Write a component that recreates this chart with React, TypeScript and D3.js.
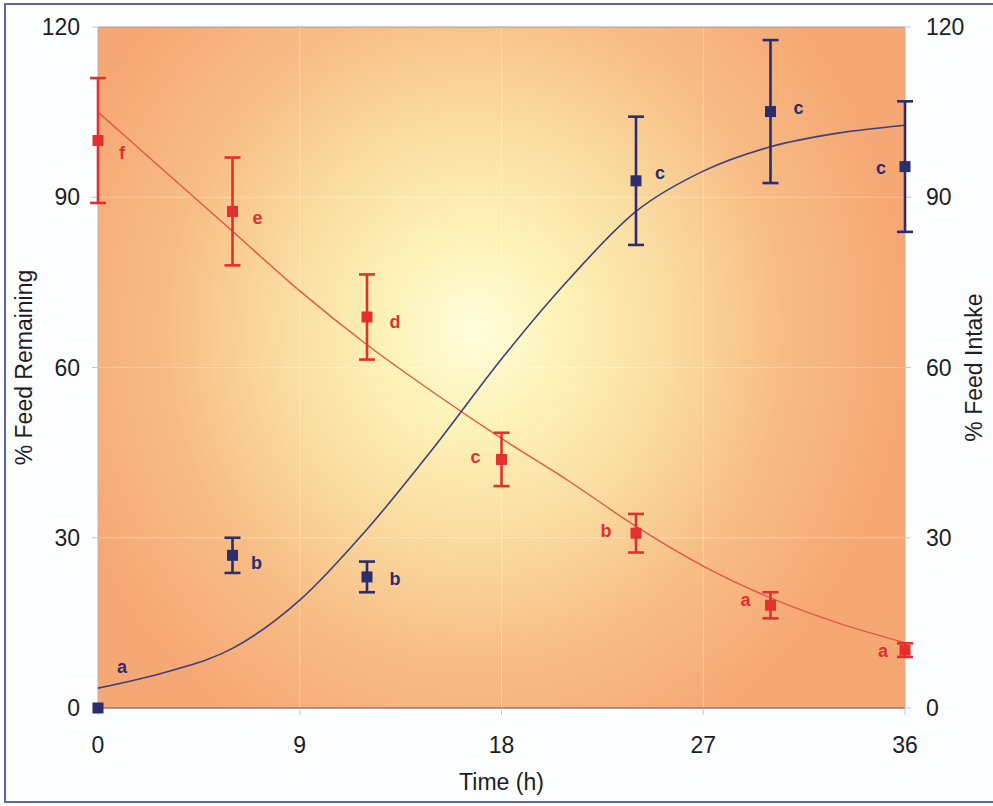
import React from "react";
import * as d3 from "d3";

// ---- data ----
const remainingTimes = [0, 6, 12, 18, 24, 30, 36];
const remainingMean = [100, 87.5, 68.9, 43.8, 30.8, 18.1, 10.2];
const remainingErr = [11, 9.5, 7.5, 4.7, 3.4, 2.3, 1.2];
const remainingLetters = ["f", "e", "d", "c", "b", "a", "a"];

const intakeTimes = [0, 6, 12, 24, 30, 36];
const intakeMean = [0, 26.9, 23.1, 92.9, 105.1, 95.4];
const intakeErr = [0, 3.1, 2.7, 11.3, 12.6, 11.5];
const intakeLetters = ["a", "b", "b", "c", "c", "c"];

const curveTimes = [0, 3, 6, 9, 12, 15, 18, 21, 24, 27, 30, 33, 36];
const remainingCurve = [105, 94.5, 84, 73.5, 64, 55.5, 47.5, 40, 32, 25, 19.4, 15, 11.5];
const intakeCurve = [3.5, 6.3, 10.5, 19, 31.5, 46, 61.5, 75.5, 87.5, 94.6, 98.9, 101.3, 102.7];

const xTicks = [0, 9, 18, 27, 36];
const yTicks = [0, 30, 60, 90, 120];

// ---- layout (label offsets in px) ----
const remainingLabelOffset: [number, number][] = [
  [24, 12], [25, 7], [28, 5], [-26, -2], [-30, -2], [-25, -5], [-22, 1],
];
const intakeLabelOffset: [number, number][] = [
  [24, -41], [24, 8], [28, 2], [24, -8], [28, -4], [-24, 1],
];

const W = 993;
const H = 806;
const M = { left: 98, right: 905, top: 27, bottom: 708 };

const RED = "#E3302C";
const BLUE = "#2B2D6E";
const RED_LINE = "#E25845";
const BLUE_LINE = "#3E3F7C";
const FONT = "'Liberation Sans', Arial, sans-serif";

export default function App() {
  const x = d3.scaleLinear().domain([0, 36]).range([M.left, M.right]);
  const y = d3.scaleLinear().domain([0, 120]).range([M.bottom, M.top]);

  const line = d3
    .line<[number, number]>()
    .x((d) => x(d[0]))
    .y((d) => y(d[1]))
    .curve(d3.curveMonotoneX);

  const redPath = line(curveTimes.map((t, i) => [t, remainingCurve[i]]) as [number, number][]) || "";
  const bluePath = line(curveTimes.map((t, i) => [t, intakeCurve[i]]) as [number, number][]) || "";

  const ms = 11; // marker size
  const cap = 8;

  const errorBar = (t: number, m: number, e: number, color: string, key: string) => {
    if (e <= 0) return null;
    const cx = x(t);
    return (
      <g key={key} stroke={color} strokeWidth={2.6}>
        <line x1={cx} x2={cx} y1={y(m + e)} y2={y(m - e)} />
        <line x1={cx - cap} x2={cx + cap} y1={y(m + e)} y2={y(m + e)} />
        <line x1={cx - cap} x2={cx + cap} y1={y(m - e)} y2={y(m - e)} />
      </g>
    );
  };

  return (
    <svg
      width={W}
      height={H}
      style={{ position: "absolute", left: 0, top: 0, background: "#FDFEFF" }}
      fontFamily={FONT}
    >
      <defs>
        <radialGradient
          id="bg"
          gradientUnits="userSpaceOnUse"
          cx={475}
          cy={330}
          r={430}
          gradientTransform="translate(475 330) scale(1 1.08) translate(-475 -330)"
        >
          <stop offset="0" stopColor="#FFFDDC" />
          <stop offset="0.2" stopColor="#FDF3B8" />
          <stop offset="0.45" stopColor="#FADCA0" />
          <stop offset="0.72" stopColor="#F7BC85" />
          <stop offset="1" stopColor="#F6A874" />
        </radialGradient>
      </defs>

      {/* outer frame */}
      <rect x={5} y={4} width={W + 10} height={798} fill="#FBFDFF" stroke="#5A67B0" strokeWidth={2} />

      {/* plot background */}
      <rect
        x={M.left}
        y={M.top}
        width={M.right - M.left}
        height={M.bottom - M.top}
        fill="url(#bg)"
      />

      {/* grid */}
      <g stroke="#FFFFFF" strokeOpacity={0.35} strokeWidth={1}>
        {xTicks.slice(1, -1).map((t) => (
          <line key={"gx" + t} x1={x(t)} x2={x(t)} y1={M.top} y2={M.bottom} />
        ))}
        {yTicks.slice(1, -1).map((v) => (
          <line key={"gy" + v} x1={M.left} x2={M.right} y1={y(v)} y2={y(v)} />
        ))}
      </g>

      {/* frame lines */}
      <line x1={M.left} x2={M.right} y1={M.top} y2={M.top} stroke="#A89CA8" strokeWidth={1} />
      <line x1={M.left} x2={M.right} y1={M.bottom} y2={M.bottom} stroke="#8A7790" strokeWidth={1.5} />
      <line x1={M.left} x2={M.left} y1={M.top} y2={M.bottom} stroke="#C8B0A8" strokeWidth={1} />
      <line x1={M.right} x2={M.right} y1={M.top} y2={M.bottom} stroke="#C8B0A8" strokeWidth={1} />

      {/* ticks */}
      <g stroke="#C8C8D0" strokeWidth={1}>
        {xTicks.map((t) => (
          <line key={"tx" + t} x1={x(t)} x2={x(t)} y1={M.bottom} y2={M.bottom + 7} />
        ))}
        {yTicks.map((v) => (
          <line key={"tyl" + v} x1={M.left - 6} x2={M.left} y1={y(v)} y2={y(v)} />
        ))}
        {yTicks.map((v) => (
          <line key={"tyr" + v} x1={M.right} x2={M.right + 6} y1={y(v)} y2={y(v)} />
        ))}
      </g>

      {/* tick labels */}
      <g fill="#1E1E1E" fontSize={23}>
        {xTicks.map((t) => (
          <text key={"lx" + t} x={x(t)} y={753} textAnchor="middle">
            {t}
          </text>
        ))}
        {yTicks.map((v) => (
          <text key={"lyl" + v} x={80} y={y(v) + 8} textAnchor="end">
            {v}
          </text>
        ))}
        {yTicks.map((v) => (
          <text key={"lyr" + v} x={926} y={y(v) + 8} textAnchor="start">
            {v}
          </text>
        ))}
      </g>

      {/* axis titles */}
      <g fill="#1E1E1E" fontSize={23}>
        <text x={(M.left + M.right) / 2} y={790} textAnchor="middle">
          Time (h)
        </text>
        <text transform={`translate(32, ${(M.top + M.bottom) / 2}) rotate(-90)`} textAnchor="middle">
          % Feed Remaining
        </text>
        <text transform={`translate(982, ${(M.top + M.bottom) / 2}) rotate(-90)`} textAnchor="middle">
          % Feed Intake
        </text>
      </g>

      {/* fitted curves */}
      <path d={redPath} fill="none" stroke={RED_LINE} strokeWidth={1.4} />
      <path d={bluePath} fill="none" stroke={BLUE_LINE} strokeWidth={1.6} />

      {/* error bars */}
      {remainingTimes.map((t, i) => errorBar(t, remainingMean[i], remainingErr[i], RED, "er" + i))}
      {intakeTimes.map((t, i) => errorBar(t, intakeMean[i], intakeErr[i], BLUE, "eb" + i))}

      {/* markers */}
      {remainingTimes.map((t, i) => (
        <rect
          key={"mr" + i}
          x={x(t) - ms / 2}
          y={y(remainingMean[i]) - ms / 2}
          width={ms}
          height={ms}
          fill={RED}
        />
      ))}
      {intakeTimes.map((t, i) => (
        <rect
          key={"mb" + i}
          x={x(t) - ms / 2}
          y={y(intakeMean[i]) - ms / 2}
          width={ms}
          height={ms}
          fill={BLUE}
        />
      ))}

      {/* significance letters */}
      <g fontSize={18} fontWeight="bold" textAnchor="middle">
        {remainingTimes.map((t, i) => (
          <text
            key={"tr" + i}
            x={x(t) + remainingLabelOffset[i][0]}
            y={y(remainingMean[i]) + remainingLabelOffset[i][1] + 6}
            fill={RED}
          >
            {remainingLetters[i]}
          </text>
        ))}
        {intakeTimes.map((t, i) => (
          <text
            key={"tb" + i}
            x={x(t) + intakeLabelOffset[i][0]}
            y={y(intakeMean[i]) + intakeLabelOffset[i][1] + 6}
            fill={BLUE}
          >
            {intakeLetters[i]}
          </text>
        ))}
      </g>
    </svg>
  );
}
